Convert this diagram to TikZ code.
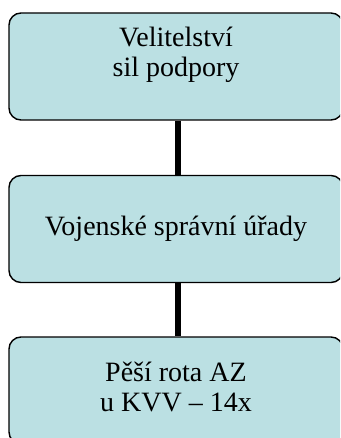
\documentclass[tikz,border=0pt]{standalone}
\usepackage{fontspec}
\setmainfont{Liberation Serif}
\definecolor{boxfill}{RGB}{187,224,227}
\begin{document}
\begin{tikzpicture}[x=1pt,y=-1pt,
  orgbox/.style={draw=black, line width=1.4pt, fill=boxfill, rounded corners=12pt,
    minimum width=334pt, minimum height=107pt, inner sep=0pt, align=center,
    font=\fontsize{28}{30}\selectfont},
  link/.style={draw=black, line width=5.5pt}]
\useasboundingbox (0,0) rectangle (340,438);
\clip (0,0) rectangle (340,438);
\node[orgbox, text depth=29pt] (b1) at (176,66.5) {Velitelství\\sil podpory};
\node[orgbox] (b2) at (176,229) {Vojenské správní úřady};
\node[orgbox, text depth=8pt] (b3) at (176,390.5) {Pěší rota AZ\\u KVV – 14x};
\draw[link] ([xshift=2pt]b1.south) -- ([xshift=2pt]b2.north);
\draw[link] ([xshift=2pt]b2.south) -- ([xshift=2pt]b3.north);
\end{tikzpicture}
\end{document}
